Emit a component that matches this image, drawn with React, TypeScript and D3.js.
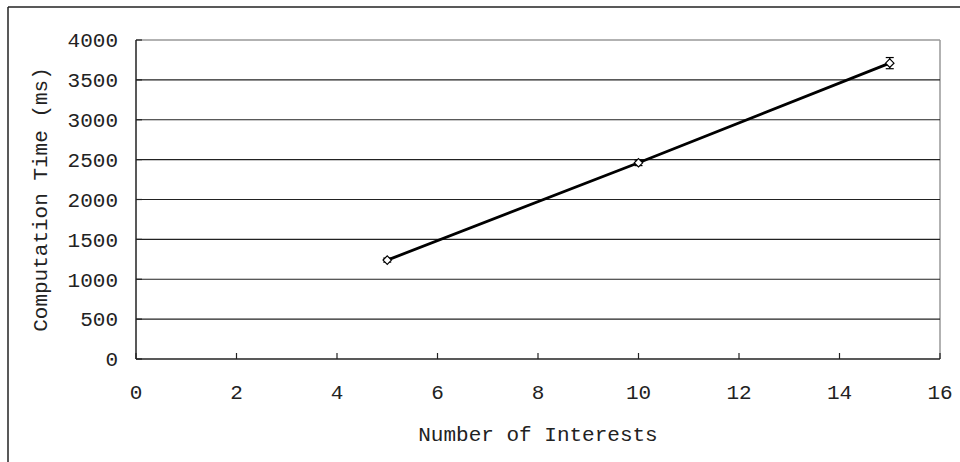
import * as d3 from "d3";
import React from "react";

// data
const interests = [5, 10, 15];
const timesMs = [1240, 2460, 3710];
const errorsMs = [25, 35, 70];
const xTicks = [0, 2, 4, 6, 8, 10, 12, 14, 16];
const yTicks = [0, 500, 1000, 1500, 2000, 2500, 3000, 3500, 4000];

const W = 960,
	H = 462;
const margin = { top: 40, right: 20, bottom: 103, left: 136 };
const font = "'Liberation Mono', 'DejaVu Sans Mono', monospace";

const App = () => {
	const x = d3
		.scaleLinear()
		.domain([0, 16])
		.range([margin.left, W - margin.right]);
	const y = d3
		.scaleLinear()
		.domain([0, 4000])
		.range([H - margin.bottom, margin.top]);

	const line = d3
		.line<number>()
		.x((_, i) => x(interests[i]))
		.y((d) => y(d));

	const marker = d3.symbol(d3.symbolDiamond2, 45)() as string;

	return (
		<svg
			width={W}
			height={H}
			style={{ position: "absolute", left: 0, top: 0, background: "#fff" }}
		>
			{/* outer frame (only top and left visible) */}
			<line x1={8} x2={W} y1={7} y2={7} stroke="#222" strokeWidth={1.5} />
			<line x1={8} x2={8} y1={7} y2={H} stroke="#222" strokeWidth={1.5} />

			{/* plot area border */}
			<line x1={x(0)} x2={x(16)} y1={y(4000)} y2={y(4000)} stroke="#999" strokeWidth={1.5} />
			<line x1={x(16)} x2={x(16)} y1={y(4000)} y2={y(0)} stroke="#999" strokeWidth={1.5} />

			{/* horizontal gridlines */}
			{yTicks
				.filter((t) => t > 0 && t < 4000)
				.map((t) => (
					<line
						key={t}
						x1={x(0)}
						x2={x(16)}
						y1={y(t)}
						y2={y(t)}
						stroke="#222"
						strokeWidth={1.2}
					/>
				))}

			{/* axes */}
			<line x1={x(0)} x2={x(16)} y1={y(0)} y2={y(0)} stroke="#222" strokeWidth={1.5} />
			<line x1={x(0)} x2={x(0)} y1={y(0)} y2={y(4000)} stroke="#222" strokeWidth={1.5} />

			{/* ticks */}
			{xTicks.map((t) => (
				<line key={t} x1={x(t)} x2={x(t)} y1={y(0)} y2={y(0) - 6} stroke="#222" strokeWidth={1.2} />
			))}
			{yTicks.map((t) => (
				<line key={t} x1={x(0)} x2={x(0) + 6} y1={y(t)} y2={y(t)} stroke="#222" strokeWidth={1.2} />
			))}

			{/* tick labels */}
			{yTicks.map((t) => (
				<text
					key={t}
					x={118}
					y={y(t)}
					dy="0.35em"
					textAnchor="end"
					fontFamily={font}
					fontSize={21}
					fill="#222"
				>
					{t}
				</text>
			))}
			{xTicks.map((t) => (
				<text
					key={t}
					x={x(t)}
					y={392}
					dy="0.35em"
					textAnchor="middle"
					fontFamily={font}
					fontSize={21}
					fill="#222"
				>
					{t}
				</text>
			))}

			{/* axis titles */}
			<text
				x={(x(0) + x(16)) / 2}
				y={434}
				dy="0.35em"
				textAnchor="middle"
				fontFamily={font}
				fontSize={21}
				fill="#222"
			>
				Number of Interests
			</text>
			<text
				transform={`translate(40,${(y(0) + y(4000)) / 2}) rotate(-90)`}
				dy="0.35em"
				textAnchor="middle"
				fontFamily={font}
				fontSize={21}
				fill="#222"
			>
				Computation Time (ms)
			</text>

			{/* series line */}
			<path d={line(timesMs) as string} fill="none" stroke="#000" strokeWidth={2.8} />

			{/* error bars */}
			{timesMs.map((v, i) => {
				const cx = x(interests[i]);
				const top = y(v + errorsMs[i]);
				const bot = y(v - errorsMs[i]);
				return (
					<g key={i} stroke="#000" strokeWidth={1.2}>
						<line x1={cx} x2={cx} y1={top} y2={bot} />
						<line x1={cx - 4} x2={cx + 4} y1={top} y2={top} />
						<line x1={cx - 4} x2={cx + 4} y1={bot} y2={bot} />
					</g>
				);
			})}

			{/* markers */}
			{timesMs.map((v, i) => (
				<path
					key={i}
					d={marker}
					transform={`translate(${x(interests[i])},${y(v)})`}
					fill="#fff"
					stroke="#000"
					strokeWidth={1.2}
				/>
			))}
		</svg>
	);
};

export default App;
